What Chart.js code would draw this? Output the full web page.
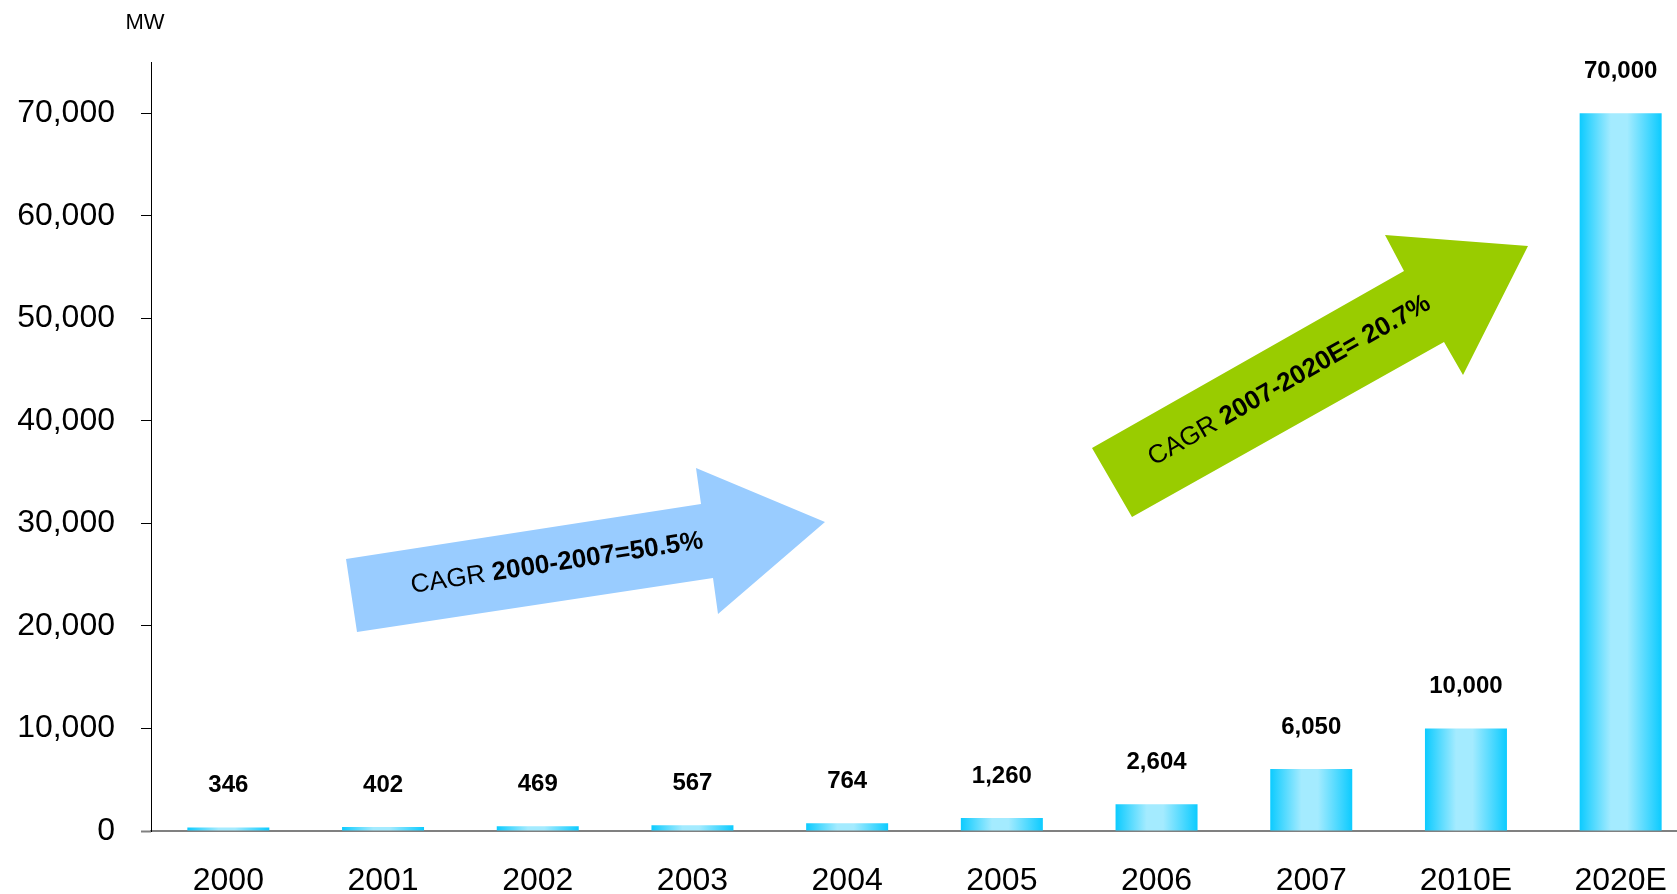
<!DOCTYPE html>
<html>
<head>
<meta charset="utf-8">
<title>MW capacity</title>
<script src="https://cdn.jsdelivr.net/npm/chart.js@4.4.0/dist/chart.umd.min.js"></script>
<style>
  html, body { margin: 0; padding: 0; background: #ffffff; overflow: hidden; }
  #wrap { width: 1698px; height: 894px; }
</style>
</head>
<body>
<div id="wrap"><canvas id="mwChart" width="1698" height="894"></canvas></div>
<script>
// Datos del grafico
const years = ["2000", "2001", "2002", "2003", "2004", "2005", "2006", "2007", "2010E", "2020E"];
const capacityMW = [346, 402, 469, 567, 764, 1260, 2604, 6050, 10000, 70000];
const yTicks = [0, 10000, 20000, 30000, 40000, 50000, 60000, 70000];
const yMax = 75000;
const unitLabel = "MW";
const cagrNotes = [
  { normal: "CAGR ", bold: "2000-2007=50.5%" },
  { normal: "CAGR ", bold: "2007-2020E= 20.7%" },
];

const FONT = '"Liberation Sans", Arial, sans-serif';

// Degradado horizontal de cada barra (cian en los bordes, claro en el centro)
const barGradient = {
  id: "barGradient",
  beforeDatasetsDraw(chart) {
    const c = chart.ctx;
    chart.getDatasetMeta(0).data.forEach((bar) => {
      const left = bar.x - bar.width / 2;
      const g = c.createLinearGradient(left, 0, left + bar.width, 0);
      g.addColorStop(0, "#0CCBFF");
      g.addColorStop(0.38, "#A4EBFF");
      g.addColorStop(0.58, "#A4EBFF");
      g.addColorStop(1, "#0CCBFF");
      bar.options.backgroundColor = g;
    });
  },
};

// Flechas CAGR y etiqueta de unidad
const arrowShapes = [
  {
    color: "#99CCFF",
    points: [[357, 632], [346, 559], [701, 504], [696, 468], [825, 522], [718, 614], [713, 578]],
    center: [558, 570.5],
    angle: -8.8,
  },
  {
    color: "#99CC00",
    points: [[1132, 517], [1092, 448], [1404, 271], [1385, 235], [1528, 246], [1463, 375], [1444, 342]],
    center: [1293, 387],
    angle: -29.6,
  },
];

const annotations = {
  id: "annotations",
  afterDatasetsDraw(chart) {
    const c = chart.ctx;
    c.save();
    arrowShapes.forEach((a, i) => {
      c.fillStyle = a.color;
      c.beginPath();
      a.points.forEach(([x, y], k) => (k === 0 ? c.moveTo(x, y) : c.lineTo(x, y)));
      c.closePath();
      c.fill();

      const note = cagrNotes[i];
      c.save();
      c.translate(a.center[0], a.center[1]);
      c.rotate((a.angle * Math.PI) / 180);
      c.font = `26px ${FONT}`;
      const w1 = c.measureText(note.normal).width;
      c.font = `bold 26px ${FONT}`;
      const w2 = c.measureText(note.bold).width;
      const start = -(w1 + w2) / 2;
      c.fillStyle = "#000000";
      c.textBaseline = "alphabetic";
      c.textAlign = "left";
      c.font = `26px ${FONT}`;
      c.fillText(note.normal, start, 0);
      c.font = `bold 26px ${FONT}`;
      c.fillText(note.bold, start + w1, 0);
      c.restore();
    });

    c.fillStyle = "#000000";
    c.font = `22px ${FONT}`;
    c.textAlign = "center";
    c.textBaseline = "middle";
    c.fillText(unitLabel, 145, 23);
    c.restore();
  },
};

// Valores encima de cada barra
const valueLabels = {
  id: "valueLabels",
  afterDatasetsDraw(chart) {
    const c = chart.ctx;
    c.save();
    c.fillStyle = "#000000";
    c.font = `bold 24px ${FONT}`;
    c.textAlign = "center";
    c.textBaseline = "middle";
    chart.getDatasetMeta(0).data.forEach((bar, i) => {
      c.fillText(capacityMW[i].toLocaleString("en-US"), bar.x, bar.y - 42);
    });
    c.restore();
  },
};

const ctx = document.getElementById("mwChart").getContext("2d");
const chart = new Chart(ctx, {
  type: "bar",
  data: {
    labels: years,
    datasets: [
      {
        data: capacityMW,
        backgroundColor: () => "#0CCBFF",
        borderWidth: 0,
        barPercentage: 0.53,
        categoryPercentage: 1,
      },
    ],
  },
  options: {
    responsive: false,
    animation: false,
    devicePixelRatio: 1,
    layout: { padding: { top: 62, left: 0, right: 0, bottom: 0 } },
    plugins: { legend: { display: false }, tooltip: { enabled: false } },
    scales: {
      x: {
        grid: { display: false },
        border: { display: true, color: "#808080", width: 2 },
        ticks: {
          color: "#000000",
          font: { family: FONT, size: 32 },
          padding: 23,
          maxRotation: 0,
          autoSkip: false,
        },
        afterFit: (s) => {
          s.height = 63;
          s.paddingLeft = 0;
          s.paddingRight = 0;
        },
      },
      y: {
        min: 0,
        max: yMax,
        afterBuildTicks: (s) => {
          s.ticks = yTicks.map((v) => ({ value: v }));
        },
        ticks: {
          color: "#000000",
          font: { family: FONT, size: 32 },
          padding: 26,
          callback: (v) => Number(v).toLocaleString("en-US"),
        },
        grid: {
          drawOnChartArea: false,
          drawTicks: true,
          tickLength: 10,
          tickColor: (c) => (c.tick && c.tick.value === 0 ? "#808080" : "#000000"),
          tickWidth: (c) => (c.tick && c.tick.value === 0 ? 2 : 1),
        },
        border: { display: true, color: "#000000", width: 1 },
        afterFit: (s) => {
          s.width = 151;
        },
      },
    },
  },
  plugins: [barGradient, annotations, valueLabels],
});
</script>
</body>
</html>
